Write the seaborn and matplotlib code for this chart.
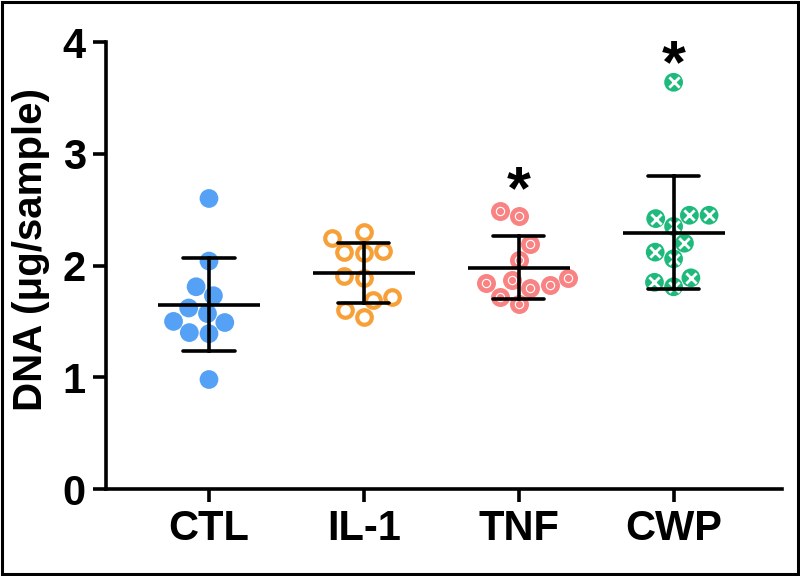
import numpy as np
import pandas as pd
import matplotlib
matplotlib.use("Agg")
import matplotlib.pyplot as plt
import seaborn as sns
from matplotlib.patches import Rectangle

groups = ["CTL", "IL-1", "TNF", "CWP"]
ctl = [2.60, 2.04, 1.81, 1.73, 1.62, 1.57, 1.50, 1.49, 1.40, 1.39, 0.98]
il1 = [2.30, 2.25, 2.11, 2.12, 2.13, 1.89, 1.91, 1.72, 1.69, 1.60, 1.54]
tnf = [2.44, 2.49, 2.19, 2.05, 1.89, 1.84, 1.87, 1.83, 1.80, 1.72, 1.66]
cwp = [3.64, 2.45, 2.45, 2.42, 2.35, 2.20, 2.12, 2.06, 1.89, 1.81, 1.85]
colors = ["#55A1F5", "#F8A038", "#F98383", "#1EBA7C"]
star_groups = ["TNF", "CWP"]
star_y = [2.65, 3.78]
yticks = [0, 1, 2, 3, 4]

values = [ctl, il1, tnf, cwp]
df = pd.DataFrame({
    "group": np.repeat(groups, [len(v) for v in values]),
    "dna": np.concatenate(values),
})

sns.set_style("ticks")
plt.rcParams["font.family"] = ["Liberation Sans", "DejaVu Sans"]
plt.rcParams["font.weight"] = "bold"
for k in ["text.color", "axes.labelcolor", "xtick.color", "ytick.color",
          "axes.edgecolor"]:
    plt.rcParams[k] = "black"

fig = plt.figure(figsize=(8, 5.76), dpi=100)
ax = fig.add_axes([0.1325, 0.151, 0.845, 0.776])

sns.swarmplot(data=df, x="group", y="dna", hue="group", order=groups,
              hue_order=groups, palette=colors, size=13.5, linewidth=0,
              legend=False, ax=ax, zorder=1)

cols = ax.collections[:4]
# IL-1 open circles
cols[1].set_facecolor("white")
cols[1].set_edgecolor(colors[1])
cols[1].set_linewidth(3.0)
cols[1].set_sizes([110])
# TNF ring with dot
cols[2].set_facecolor("white")
cols[2].set_edgecolor(colors[2])
cols[2].set_linewidth(3.4)
cols[2].set_sizes([105])

sns.pointplot(data=df, x="group", y="dna", order=groups, errorbar="sd",
              color="black", linestyle="none", marker="_", markersize=73,
              markeredgewidth=2.6, capsize=0.33,
              err_kws={"linewidth": 2.6}, ax=ax, zorder=3)

for g, yv in zip(star_groups, star_y):
    ax.text(groups.index(g), yv, "*", ha="center", va="center",
            fontsize=44, fontweight="bold", color="black")

ax.set_xlim(-0.665, 3.7)
ax.set_ylim(0, 4)
ax.set_yticks(yticks)
ax.set_xlabel("")
ax.set_ylabel("DNA (μg/sample)", fontsize=29, fontweight="bold")
ax.yaxis.set_label_coords(-0.083, 0.535)
sns.despine(ax=ax)
for s in ["left", "bottom"]:
    ax.spines[s].set_linewidth(2.6)
ax.tick_params(axis="both", width=2.6, length=9.5, labelsize=30, pad=5)
for lab in ax.get_xticklabels() + ax.get_yticklabels():
    lab.set_fontweight("bold")

fig.patches.append(Rectangle((0.003, 0.004), 0.994, 0.992, transform=fig.transFigure,
                             fill=False, edgecolor="black", linewidth=2.2))

# compute swarm layout with final transforms, then overlay inner decorations
fig.canvas.draw()
off = cols[2].get_offsets()
ax.scatter(off[:, 0], off[:, 1], s=26, color=colors[2], linewidth=0, zorder=1.5)
off = cols[3].get_offsets()
ax.scatter(off[:, 0], off[:, 1], s=55, marker="x", color="white",
           linewidth=2.0, zorder=1.5)
ax.set_xlim(-0.665, 3.7)
ax.set_ylim(0, 4)

fig.savefig("out.png", dpi=100)
